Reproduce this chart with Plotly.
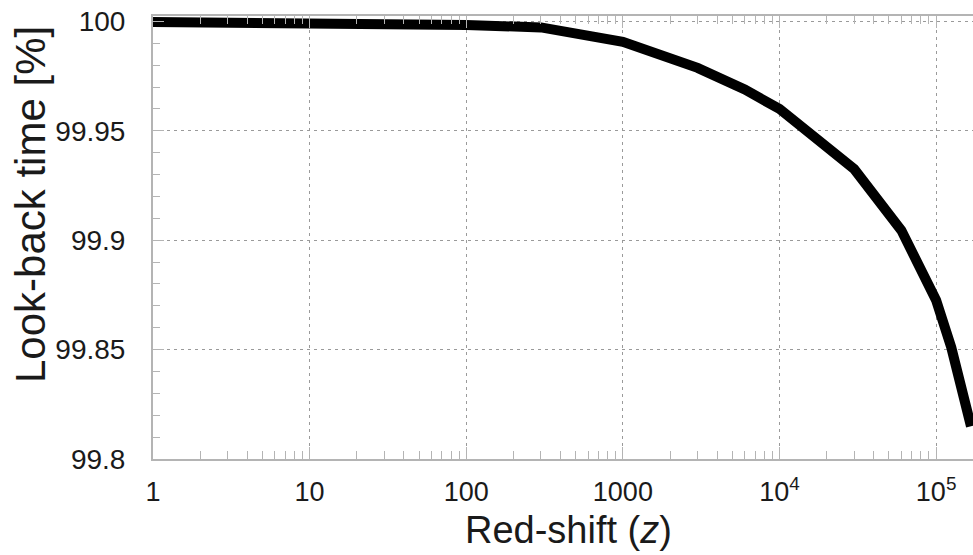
import plotly.graph_objects as go
import numpy as np

# data
redshift = [1, 10, 30, 100, 300, 1000, 3000, 6000, 10000, 30000, 60000, 100000, 125000, 167000]
lookback = [99.9998, 99.9995, 99.9992, 99.9984, 99.9973, 99.9907, 99.9788, 99.9689, 99.9600,
            99.9325, 99.9045, 99.8726, 99.8510, 99.8150]

x_tickvals = [1, 10, 100, 1000, 10000, 100000]
x_ticktext = ["1", "10", "100", "1000", "10<sup>4</sup>", "10<sup>5</sup>"]
y_tickvals = [99.8, 99.85, 99.9, 99.95, 100.0]
y_ticktext = ["99.8", "99.85", "99.9", "99.95", "100"]

x_minor = [k * 10 ** d for d in range(0, 6) for k in range(2, 10)]
y_minor = [round(99.8 + 0.01 * i, 2) for i in range(0, 21)]

FONT = "Liberation Sans, Arial, Helvetica, sans-serif"
AX = "#b4b4b4"
GRID = "#9a9a9a"

fig = go.Figure()
fig.add_trace(go.Scatter(x=redshift, y=lookback, mode="lines",
                         line=dict(color="black", width=10, shape="linear"),
                         showlegend=False, hoverinfo="skip"))

fig.update_layout(
    width=973, height=555,
    margin=dict(l=153, r=0, t=16, b=96),
    paper_bgcolor="white", plot_bgcolor="white",
    font=dict(family=FONT, color="#1a1a1a"),
    xaxis=dict(
        type="log", range=[0, np.log10(172000)],
        tickmode="array", tickvals=x_tickvals, ticktext=x_ticktext,
        tickfont=dict(size=27, family=FONT, color="#1a1a1a"),
        ticks="inside", ticklen=12, tickcolor=AX, tickwidth=1,
        ticklabelstandoff=8,
        showline=True, linecolor=AX, linewidth=2, mirror="allticks",
        showgrid=True, gridcolor=GRID, griddash="3px,4px", gridwidth=1,
        zeroline=False,
        minor=dict(tickmode="array", tickvals=x_minor, ticks="inside", ticklen=8,
                   tickcolor=AX, tickwidth=1, showgrid=False),
    ),
    yaxis=dict(
        range=[99.8, 100.0025],
        tickmode="array", tickvals=y_tickvals, ticktext=y_ticktext,
        tickfont=dict(size=28, family=FONT, color="#1a1a1a"),
        ticks="inside", ticklen=11, tickcolor=AX, tickwidth=1,
        ticklabelstandoff=20,
        showline=True, linecolor=AX, linewidth=2, mirror=False,
        showgrid=True, gridcolor=GRID, griddash="3px,4px", gridwidth=1,
        zeroline=False,
        minor=dict(tickmode="array", tickvals=y_minor, ticks="inside", ticklen=7,
                   tickcolor=AX, tickwidth=1, showgrid=False),
    ),
    annotations=[
        dict(text="Look-back time [%]", textangle=-90, xref="paper", yref="paper",
             x=(30 - 153) / 820, y=(459 - 205) / 443, xanchor="center", yanchor="middle",
             showarrow=False, font=dict(size=42, family=FONT, color="#1a1a1a")),
        dict(text="Red-shift (<i>z</i>)", xref="paper", yref="paper",
             x=(568 - 153) / 820, y=(459 - 530) / 443, xanchor="center", yanchor="middle",
             showarrow=False, font=dict(size=38, family=FONT, color="#1a1a1a")),
    ],
)

fig.write_html("out.html")
